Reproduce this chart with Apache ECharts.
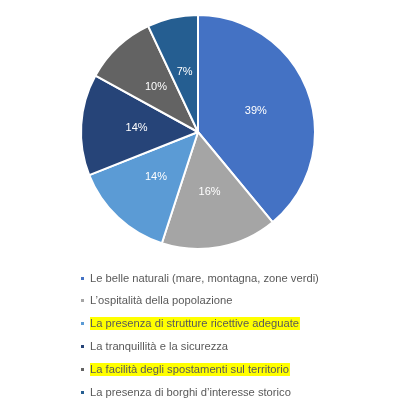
<!DOCTYPE html>
<html><head><meta charset="utf-8">
<script src="https://cdn.jsdelivr.net/npm/echarts@6/dist/echarts.min.js"></script>
<style>html,body{margin:0;padding:0;background:#fff}#c{width:395px;height:411px}</style>
</head><body><div id="c"></div>
<script>
const categories = [
  "Le belle naturali (mare, montagna, zone verdi)",
  "L\u2019ospitalità della popolazione",
  "La presenza di strutture ricettive adeguate",
  "La tranquillità e la sicurezza",
  "La facilità degli spostamenti sul territorio",
  "La presenza di borghi d\u2019interesse storico"
];
const values = [39, 16, 14, 14, 10, 7];
const highlighted = [false, false, true, false, true, false];
const colors = ["#4472C4", "#A5A5A5", "#5B9BD5", "#264478", "#636363", "#255E91"];

const chart = echarts.init(document.getElementById('c'));
chart.setOption({
  animation: false,
  color: colors,
  legend: {
    orient: 'vertical',
    left: 79,
    top: 273,
    padding: 0,
    itemWidth: 5,
    itemHeight: 5,
    itemGap: 11,
    icon: 'rect',
    textStyle: {
      fontFamily: 'Liberation Sans',
      fontSize: 11.2,
      color: '#595959',
      rich: {
        n: {fontFamily: 'Liberation Sans', fontSize: 11.2, color: '#595959', padding: [1, 1, 1, 0]},
        hl: {fontFamily: 'Liberation Sans', fontSize: 11.2, color: '#595959', backgroundColor: '#FFFF00', padding: [1, 1, 1, 0]}
      }
    },
    formatter: function (name) {
      const i = categories.indexOf(name);
      return highlighted[i] ? '{hl|' + name + '}' : '{n|' + name + '}';
    },
    data: categories
  },
  series: [{
    type: 'pie',
    center: [198, 132],
    radius: [0, 117],
    startAngle: 90,
    clockwise: true,
    itemStyle: {borderColor: '#fff', borderWidth: 2},
    label: {
      position: 'inside',
      formatter: '{c}%',
      color: '#fff',
      fontFamily: 'Liberation Sans',
      fontSize: 11
    },
    labelLine: {show: false},
    emphasis: {disabled: true},
    data: categories.map((n, i) => ({name: n, value: values[i]}))
  }]
});
</script></body></html>
